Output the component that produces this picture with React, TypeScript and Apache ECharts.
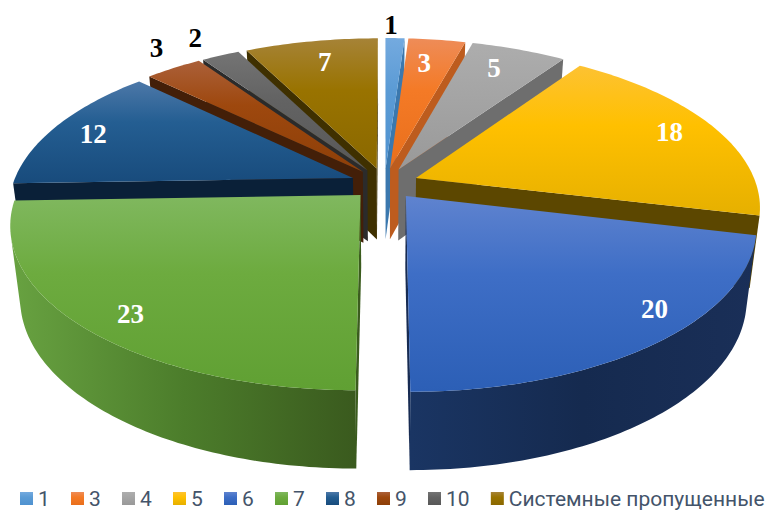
import React, { useEffect, useRef } from "react";
import * as echarts from "echarts";

const categories = ["1", "3", "4", "5", "6", "7", "8", "9", "10", "Системные пропущенные"];
const sliceValues = [1, 3, 5, 18, 20, 23, 12, 3, 2, 7];

// Styling, parallel to the categories
const faceColors = [
  ["#74aadf", "#5b9bd5", "#4f92d0"],
  ["#ee8c58", "#f47a26", "#e96f1c"],
  ["#adadad", "#a5a5a5", "#999999"],
  ["#fdc232", "#ffc000", "#e6b000"],
  ["#5f83cf", "#3e6ec6", "#2c5fb6"],
  ["#80b85f", "#6dab3f", "#60a033"],
  ["#4d78a8", "#245e92", "#184b7c"],
  ["#ab6039", "#9e480e", "#8d3f08"],
  ["#747474", "#636363", "#585858"],
  ["#a68337", "#997300", "#8a6800"],
];
const wallColors = ["#3b78ae", "#bd5c1e", "#6e6e6e", "#5c4700", "#172b52", "#3b5c1e", "#0a2038", "#431f08", "#2b2b2b", "#3f3000"];
const outerWallColors: Record<number, string[]> = {
  4: ["#1a3563", "#152a4f", "#1a2f58"],
  5: ["#68a241", "#4c7d2b", "#3a5a1e"],
};
const labelRadii = [1.12, 0.79, 0.82, 0.855, 0.892, 0.878, 0.865, 1.18, 1.18, 0.81];
const labelAngleShift = [-0.9, -1.0, -1.4, -0.5, -7.2, -2.3, -1, 2.5, -0.5, 0.6];
const labelColors = ["#000", "#fff", "#fff", "#fff", "#fff", "#fff", "#fff", "#000", "#000", "#fff"];

// Projection of the tilted disc
const CX = 384.5;
const PERSPECTIVE = 0.1715;
const EXPLODE = 0.1;
const TOP = { rx: 340, k: 157.3, cy: 183.6 };
const BOTTOM = { rx: 331, k: 162.6, cy: 255 };

type Plane = typeof TOP;
const project = (X: number, Y: number, p: Plane): [number, number] => {
  const s = 1 / (1 - PERSPECTIVE * Y);
  return [CX + p.rx * X * s, p.cy + p.k * Y * s];
};

const total = sliceValues.reduce((a, b) => a + b, 0);
const toRad = (v: number) => (v / total) * Math.PI * 2;
const starts: number[] = [];
sliceValues.reduce((acc, v, i) => {
  starts[i] = acc;
  return acc + v;
}, 0);
const mids = sliceValues.map((v, i) => toRad(starts[i] + v / 2));
const depthOrder = mids
  .map((m, i) => ({ i, y: -Math.cos(m) }))
  .sort((a, b) => a.y - b.y)
  .map((d) => d.i);

const vGrad = (c: string[]) =>
  new echarts.graphic.LinearGradient(0, 0, 0, 1, [
    { offset: 0, color: c[0] },
    { offset: 0.4, color: c[1] },
    { offset: 1, color: c[2] },
  ]);
const hGrad = (c: string[]) =>
  new echarts.graphic.LinearGradient(0, 0, 1, 0, [
    { offset: 0, color: c[0] },
    { offset: 0.5, color: c[1] },
    { offset: 1, color: c[2] },
  ]);

const area = (pts: number[][]) => {
  let a = 0;
  for (let i = 0; i < pts.length; i++) {
    const [x1, y1] = pts[i];
    const [x2, y2] = pts[(i + 1) % pts.length];
    a += x1 * y2 - x2 * y1;
  }
  return a;
};

const renderSlice = (index: number) => (_params: any, api: any) => {
  const value = api.value(0) as number;
  const a0 = toRad(starts[index]);
  const a1 = a0 + toRad(value);
  const mid = mids[index];
  const ox = EXPLODE * Math.sin(mid);
  const oy = -EXPLODE * Math.cos(mid);
  const steps = Math.max(6, Math.round(value * 4));
  const angles = Array.from({ length: steps + 1 }, (_, i) => a0 + ((a1 - a0) * i) / steps);
  const at = (a: number, p: Plane) => project(ox + Math.sin(a), oy - Math.cos(a), p);
  const apexT = project(ox, oy, TOP);
  const apexB = project(ox, oy, BOTTOM);
  const topArc = angles.map((a) => at(a, TOP));
  const botArc = angles.map((a) => at(a, BOTTOM));
  const children: any[] = [];
  const wall = wallColors[index];
  const poly = (points: number[][], fill: any) => ({
    type: "polygon",
    shape: { points },
    style: { fill, stroke: null },
  });

  const q0 = [apexT, topArc[0], botArc[0], apexB];
  if (area(q0) < 0) children.push(poly(q0, wall));
  const q1 = [topArc[steps], apexT, apexB, botArc[steps]];
  if (area(q1) < 0) children.push(poly(q1, wall));

  let runStart = -1;
  let runEnd = -1;
  for (let i = 0; i < steps; i++) {
    const q = [topArc[i], topArc[i + 1], botArc[i + 1], botArc[i]];
    if (area(q) < 0) {
      if (runStart < 0) runStart = i;
      runEnd = i + 1;
    }
  }
  if (runStart >= 0) {
    const t = topArc.slice(runStart, runEnd + 1);
    const b = botArc.slice(runStart, runEnd + 1).reverse();
    const shades = outerWallColors[index];
    children.push(poly([...t, ...b], shades ? hGrad(shades) : wall));
  }

  children.push(poly([apexT, ...topArc], vGrad(faceColors[index])));

  const r = labelRadii[index];
  const labelAngle = mid + (labelAngleShift[index] * Math.PI) / 180;
  const [lx, ly] = project(ox + r * Math.sin(labelAngle), oy - r * Math.cos(labelAngle), TOP);
  children.push({
    type: "text",
    style: {
      text: String(value),
      x: lx,
      y: ly,
      fill: labelColors[index],
      font: '700 27px "Liberation Serif"',
      align: "center",
      verticalAlign: "middle",
    },
  });
  return { type: "group", children };
};

export default function App() {
  const ref = useRef<HTMLDivElement>(null);
  useEffect(() => {
    document.body.style.margin = "0";
    const chart = echarts.init(ref.current!, null, { renderer: "svg" });
    chart.setOption({
      animation: false,
      backgroundColor: "#ffffff",
      legend: {
        data: categories,
        left: 20,
        top: 488,
        padding: 0,
        itemWidth: 13,
        itemHeight: 13,
        itemGap: 21.2,
        icon: "rect",
        selectedMode: false,
        textStyle: { color: "#44546a", fontSize: 21, lineHeight: 20, fontFamily: "Roboto" },
      },
      series: categories.map((name, i) => ({
        type: "custom",
        name,
        coordinateSystem: "none",
        silent: true,
        z: 2 + depthOrder.indexOf(i),
        itemStyle: { color: vGrad(faceColors[i]) },
        renderItem: renderSlice(i),
        data: [{ value: sliceValues[i], name }],
      })),
    });
    return () => chart.dispose();
  }, []);
  return <div ref={ref} style={{ width: 768, height: 511 }} />;
}
